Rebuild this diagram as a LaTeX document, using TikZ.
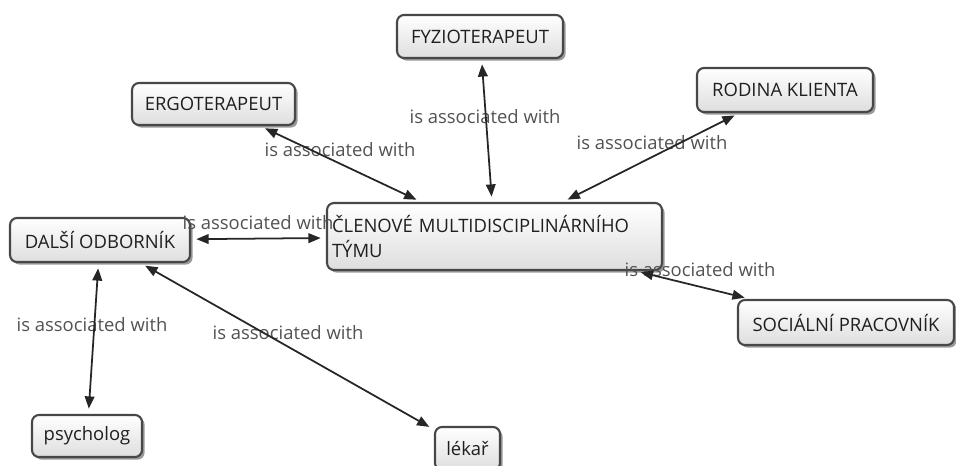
\documentclass[tikz,border=0pt]{standalone}
\usepackage{fontspec}
\setmainfont{Open Sans}
\usepackage{tikz}
\usetikzlibrary{arrows.meta}
\usetikzlibrary{shadows}

\begin{document}
\begin{tikzpicture}[x=0.02cm, y=-0.02cm,
    concept/.style={draw=black!72, line width=1.2pt, rounded corners=4pt,
      top color=white, bottom color=black!13, text=black!88,
      font=\fontsize{10.5}{14}\selectfont, inner sep=0pt,
      drop shadow={shadow xshift=1.5pt, shadow yshift=-1.5pt, fill=black, opacity=0.4}},
    assoc/.style={text=black!68, font=\fontsize{10.5}{14}\selectfont, inner sep=0pt},
    link/.style={{Triangle[length=7pt, width=5.5pt]}-{Triangle[length=7pt, width=5.5pt]},
      line width=1pt, black!85, shorten >=3pt, shorten <=3pt}]

    \useasboundingbox (0, 0) rectangle (956, 466);

    \node [concept, minimum width=3.32cm, minimum height=0.86cm] (fyzio) at (480, 36.5) {FYZIOTERAPEUT};
    \node [concept, minimum width=3.52cm, minimum height=0.88cm] (rodina) at (785, 90) {RODINA KLIENTA};
    \node [concept, minimum width=3.26cm, minimum height=0.84cm] (ergo) at (213.5, 104) {ERGOTERAPEUT};
    \node [concept, minimum width=3.6cm, minimum height=0.88cm] (dalsi) at (100, 240) {DALŠÍ ODBORNÍK};
    \node [concept, text width=6.5cm, inner xsep=0.1cm, align=left, minimum height=1.34cm]
      (clenove) at (494.5, 236.5) {ČLENOVÉ MULTIDISCIPLINÁRNÍHO\\TÝMU};
    \node [concept, minimum width=4.32cm, minimum height=0.9cm] (social) at (846, 322.5) {SOCIÁLNÍ PRACOVNÍK};
    \node [concept, minimum width=2.2cm, minimum height=0.84cm] (psycholog) at (87, 436) {psycholog};
    \node [concept, minimum width=1.3cm, minimum height=0.86cm] (lekar) at (467.5, 448.5) {lékař};

    \foreach \name/\x/\y in {lfyzio/485/117, lrodina/652/143, lergo/340/150, ldalsi/258/223,
      lsocial/700/270, lpsycholog/92/325, llekar/288/333} {
      \node [assoc] (\name) at (\x, \y) {is associated with};
    }

    \foreach \a/\b in {fyzio/clenove, rodina/clenove, ergo/clenove, dalsi/clenove,
      clenove/social, dalsi/psycholog, dalsi/lekar} {
      \draw [link] (\a) -- (\b);
    }

\end{tikzpicture}
\end{document}
